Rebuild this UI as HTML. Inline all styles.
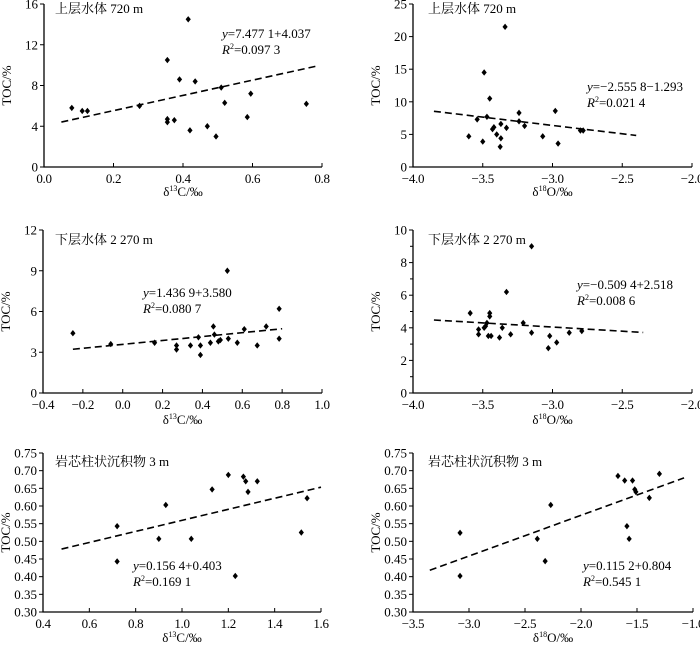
<!DOCTYPE html>
<html><head><meta charset="utf-8">
<style>
html,body{margin:0;padding:0;background:#fff;}
svg{display:block;font-family:"Liberation Serif","Noto Serif CJK SC","Noto Sans CJK SC",serif;}
</style></head>
<body>
<svg id="chart" width="700" height="647" viewBox="0 0 700 647" xmlns="http://www.w3.org/2000/svg"></svg>
<script>
// Panel 1: upper water 720 m, d13C
const p1X = [0.08,0.11,0.125,0.275,0.355,0.355,0.355,0.375,0.39,0.415,0.42,0.435,0.47,0.495,0.51,0.52,0.585,0.595,0.755];
const p1Y = [5.8,5.5,5.5,6.0,10.5,4.7,4.4,4.6,8.6,14.5,3.6,8.4,4.0,3.0,7.8,6.3,4.9,7.2,6.2];
// Panel 2: upper water 720 m, d18O
const p2X = [-3.6,-3.54,-3.5,-3.49,-3.47,-3.45,-3.43,-3.42,-3.40,-3.37,-3.37,-3.375,-3.34,-3.33,-3.24,-3.24,-3.2,-3.07,-2.98,-2.96,-2.8,-2.78];
const p2Y = [4.7,7.3,3.9,14.5,7.7,10.5,5.8,6.1,5.0,6.6,4.4,3.1,21.5,6.0,8.3,7.0,6.3,4.7,8.6,3.6,5.6,5.6];
// Panel 3: lower water 2270 m, d13C
const p3X = [-0.25,-0.06,0.16,0.27,0.27,0.34,0.38,0.39,0.39,0.44,0.455,0.46,0.48,0.49,0.525,0.53,0.575,0.61,0.675,0.72,0.785,0.785];
const p3Y = [4.4,3.6,3.7,3.5,3.2,3.5,4.1,3.5,2.8,3.7,4.9,4.3,3.8,3.9,9.0,4.0,3.7,4.7,3.5,4.9,6.2,4.0];
// Panel 4: lower water 2270 m, d18O
const p4X = [-3.59,-3.53,-3.53,-3.49,-3.48,-3.47,-3.46,-3.45,-3.45,-3.44,-3.38,-3.36,-3.33,-3.3,-3.21,-3.15,-3.15,-3.03,-3.02,-2.97,-2.88,-2.79];
const p4Y = [4.9,3.9,3.6,4.0,4.1,4.3,3.5,4.9,4.7,3.5,3.4,4.0,6.2,3.6,4.3,9.0,3.7,2.75,3.5,3.1,3.7,3.8];
// Panel 5: core sediment 3 m, d13C
const p5X = [0.72,0.72,0.90,0.93,1.04,1.13,1.20,1.23,1.265,1.275,1.285,1.325,1.515,1.54];
const p5Y = [0.543,0.443,0.507,0.603,0.507,0.647,0.688,0.402,0.683,0.67,0.64,0.67,0.525,0.622];
// Panel 6: core sediment 3 m, d18O
const p6X = [-3.08,-3.08,-2.39,-2.32,-2.27,-1.67,-1.61,-1.59,-1.57,-1.54,-1.52,-1.51,-1.39,-1.3];
const p6Y = [0.524,0.402,0.507,0.444,0.603,0.685,0.672,0.543,0.507,0.672,0.647,0.64,0.623,0.691];
// Ticks
const xTicksC1 = [0.0,0.2,0.4,0.6,0.8];
const xTicksC2 = [-0.4,-0.2,0.0,0.2,0.4,0.6,0.8,1.0];
const xTicksC3 = [0.4,0.6,0.8,1.0,1.2,1.4,1.6];
const xTicksO12 = [-4.0,-3.5,-3.0,-2.5,-2.0];
const xTicksO3 = [-3.5,-3.0,-2.5,-2.0,-1.5,-1.0];
const yTicks1 = [0,4,8,12,16];
const yTicks2 = [0,5,10,15,20,25];
const yTicks3 = [0,3,6,9,12];
const yTicks4 = [0,2,4,6,8,10];
const yTicks56 = [0.30,0.35,0.40,0.45,0.50,0.55,0.60,0.65,0.70,0.75];
// Regressions: slope, intercept, x-start, x-end
const fit1 = [7.4771,4.037,0.05,0.79];
const fit2 = [-2.5558,-1.293,-3.85,-2.4];
const fit3 = [1.4369,3.58,-0.25,0.8];
const fit4 = [-0.5094,2.518,-3.85,-2.35];
const fit5 = [0.1564,0.403,0.48,1.6];
const fit6 = [0.1152,0.804,-3.35,-1.08];

const NS="http://www.w3.org/2000/svg";
const svg=document.getElementById('chart');
function mk(tag,attrs,parent){const e=document.createElementNS(NS,tag);for(const k in attrs)e.setAttribute(k,attrs[k]);(parent||svg).appendChild(e);return e;}
function fmt(v,d){let s=v.toFixed(d);return s.replace('-','\u2212');}

const panels=[
 {id:'p1',xs:p1X,ys:p1Y,x0:44,x1:322,xmin:0,xmax:0.8,y0:167,y1:4,ymin:0,ymax:16,xt:xTicksC1,xd:1,yt:yTicks1,yd:0,fit:fit1,
  title:'上层水体 720 m',tx:55,ty:13,eq:'7.477 1+4.037',r2:'0.097 3',ex:222,ey:38,xl:'C',xly:196,iso:'13'},
 {id:'p2',xs:p2X,ys:p2Y,x0:413,x1:692,xmin:-4,xmax:-2,y0:167,y1:4,ymin:0,ymax:25,xt:xTicksO12,xd:1,yt:yTicks2,yd:0,fit:fit2,
  title:'上层水体 720 m',tx:428,ty:13,eq:'\u22122.555 8\u22121.293',r2:'0.021 4',ex:587,ey:91,xl:'O',xly:196,iso:'18'},
 {id:'p3',xs:p3X,ys:p3Y,x0:43,x1:322,xmin:-0.4,xmax:1.0,y0:393,y1:230,ymin:0,ymax:12,xt:xTicksC2,xd:1,yt:yTicks3,yd:0,fit:fit3,
  title:'下层水体 2 270 m',tx:55,ty:244,eq:'1.436 9+3.580',r2:'0.080 7',ex:143,ey:297,xl:'C',xly:424,iso:'13'},
 {id:'p4',xs:p4X,ys:p4Y,x0:413,x1:692,xmin:-4,xmax:-2,y0:393,y1:230,ymin:0,ymax:10,xt:xTicksO12,xd:1,yt:yTicks4,yd:0,fit:fit4,
  title:'下层水体 2 270 m',tx:428,ty:244,eq:'\u22120.509 4+2.518',r2:'0.008 6',ex:577,ey:289,xl:'O',xly:424,iso:'18',minor:true},
 {id:'p5',xs:p5X,ys:p5Y,x0:43,x1:321,xmin:0.4,xmax:1.6,y0:612,y1:453,ymin:0.30,ymax:0.75,xt:xTicksC3,xd:1,yt:yTicks56,yd:2,fit:fit5,
  title:'岩芯柱状沉积物  3 m',tx:55,ty:466,eq:'0.156 4+0.403',r2:'0.169 1',ex:133,ey:570,xl:'C',xly:642,iso:'13'},
 {id:'p6',xs:p6X,ys:p6Y,x0:413,x1:693,xmin:-3.5,xmax:-1.0,y0:612,y1:453,ymin:0.30,ymax:0.75,xt:xTicksO3,xd:1,yt:yTicks56,yd:2,fit:fit6,
  title:'岩芯柱状沉积物 3 m',tx:428,ty:466,eq:'0.115 2+0.804',r2:'0.545 1',ex:583,ey:570,xl:'O',xly:642,iso:'18'}
];

panels.forEach(p=>{
  const g=mk('g',{});
  
  
  const sx=v=>p.x0+(v-p.xmin)/(p.xmax-p.xmin)*(p.x1-p.x0);
  const sy=v=>p.y0-(v-p.ymin)/(p.ymax-p.ymin)*(p.y0-p.y1);
  const ax=mk('path',{d:`M${p.x0},${p.y1} V${p.y0} H${p.x1}`,stroke:'#000','stroke-width':1.3,fill:'none'},g);
  
  
  p.xt.forEach(t=>{
    const x=sx(t);
    mk('line',{x1:x,x2:x,y1:p.y0,y2:p.y0-4,stroke:'#000','stroke-width':1},g);
    const tl=mk('text',{x:x,y:p.y0+16,'text-anchor':'middle','font-size':13,'letter-spacing':'-0.3'},g);
    tl.textContent=fmt(t,p.xd);
    
    
  });
  p.yt.forEach((t,i)=>{
    const y=sy(t);
    mk('line',{x1:p.x0-4,x2:p.x0,y1:y,y2:y,stroke:'#000','stroke-width':1},g);
    if(p.minor && i<p.yt.length-1){const ym=sy(t+(p.yt[1]-p.yt[0])/2);mk('line',{x1:p.x0-3,x2:p.x0,y1:ym,y2:ym,stroke:'#000','stroke-width':1},g);}
    const tl=mk('text',{x:p.x0-6,y:y+4.5,'text-anchor':'end','font-size':13},g);
    tl.textContent=fmt(t,p.yd);
    
    
  });
  const f=p.fit;
  const ln=mk('line',{x1:sx(f[2]),y1:sy(f[0]*f[2]+f[1]),x2:sx(f[3]),y2:sy(f[0]*f[3]+f[1]),stroke:'#000','stroke-width':1.6,'stroke-dasharray':'7,4'},g);
  
  
  p.xs.forEach((xv,i)=>{
    const cx=sx(xv),cy=sy(p.ys[i]);
    const d=mk('path',{d:`M${cx},${cy-3.2} L${cx+2.6},${cy} L${cx},${cy+3.2} L${cx-2.6},${cy} Z`,fill:'#000'},g);
    
    
  });
  const ti=mk('text',{x:p.tx,y:p.ty,'font-size':13},g);
  ti.textContent=p.title;
  
  
  const eq=mk('text',{x:p.ex,y:p.ey,'font-size':13},g);
  eq.innerHTML='<tspan font-style="italic">y</tspan>='+p.eq;
  
  
  const r2=mk('text',{x:p.ex,y:p.ey+16,'font-size':13},g);
  r2.innerHTML='<tspan font-style="italic">R</tspan><tspan font-size="8" dy="-5">2</tspan><tspan dy="5">='+p.r2+'</tspan>';
  
  
  const xl=mk('text',{x:(p.x0+p.x1)/2,y:p.xly,'text-anchor':'middle','font-size':13},g);
  xl.innerHTML='δ<tspan font-size="8" dy="-5">'+p.iso+'</tspan><tspan dy="5">'+p.xl+'/‰</tspan>';
  
  
  const ycx=p.x0-33, ycy=(p.y0+p.y1)/2;
  const yl=mk('text',{x:ycx,y:ycy,'text-anchor':'middle','font-size':13,transform:`rotate(-90 ${ycx} ${ycy})`},g);
  yl.textContent='TOC/%';
  
  
});
</script>
</body></html>
